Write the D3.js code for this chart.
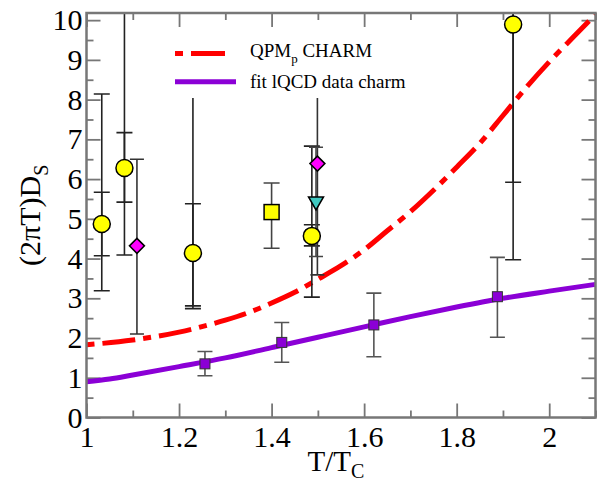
<!DOCTYPE html>
<html><head><meta charset="utf-8">
<script src="https://cdn.jsdelivr.net/npm/d3@7"></script>
<style>html,body{margin:0;padding:0;background:#fff;} svg{display:block;} text{font-family:"Liberation Serif","DejaVu Serif",serif;}</style>
</head><body>
<script>
// ---- data ----
const qpmT = [1.0,1.1,1.2,1.3,1.35,1.4,1.45,1.5,1.55,1.6,1.65,1.7,1.75,1.8,1.85,1.9,1.95,2.0,2.05,2.1];
const qpmD = [1.83,1.95,2.15,2.45,2.64,2.88,3.15,3.48,3.82,4.22,4.7,5.18,5.72,6.3,6.9,7.6,8.3,8.95,9.55,10.14];
const fitT = [1.0,1.05,1.1,1.2,1.3,1.4,1.5,1.6,1.7,1.8,1.9,2.0,2.1];
const fitD = [0.90,0.97,1.07,1.28,1.50,1.76,2.02,2.28,2.54,2.78,3.0,3.18,3.35];

const lqcdT  = [1.256,1.422,1.621,1.888];
const lqcdD  = [1.35,1.89,2.33,3.04];
const lqcdLo = [1.05,1.39,1.53,2.02];
const lqcdHi = [1.66,2.39,3.13,4.03];

const circT   = [1.033,1.082,1.23,1.487,1.922];
const circD   = [4.87,6.28,4.14,4.57,9.89];
const circLo1 = [4.07,5.42,2.81,4.32,5.92];
const circHi1 = [5.67,7.17,5.38,4.85,13.9];
const circLo2 = [3.19,4.09,2.74,3.03,3.97];
const circHi2 = [8.14,11.5,9.0,6.83,15.8];

const diamT  = [1.109,1.499];
const diamD  = [4.32,6.39];
const diamLo = [2.10,3.59];
const diamHi = [6.50,9.19];

const sqT  = [1.40];
const sqD  = [5.17];
const sqLo = [4.26];
const sqHi = [5.90];

const triT  = [1.496];
const triD  = [5.40];
const triLo = [4.05];
const triHi = [6.80];

const xMajor = [1,1.2,1.4,1.6,1.8,2];
const xMinor = [1.1,1.3,1.5,1.7,1.9,2.1];
const yMajor = [0,1,2,3,4,5,6,7,8,9,10];
const yMinor = [0.5,1.5,2.5,3.5,4.5,5.5,6.5,7.5,8.5,9.5];

// ---- layout ----
const W = 597, H = 484;
const L = 86.5, R = 595.5, T = 13, B = 417.5;
const svg = d3.select("body").append("svg").attr("width", W).attr("height", H);
const x = d3.scaleLinear().domain([1, 2.1]).range([L, R]);
const y = d3.scaleLinear().domain([0, 10.18]).range([B, T]);
const serif = "Liberation Serif, DejaVu Serif, serif";
const frameCol = "#777";

svg.append("defs").append("clipPath").attr("id","clip")
  .append("rect").attr("x",L).attr("y",T).attr("width",R-L).attr("height",B-T);

// axes (inward ticks)
function styleAxis(g){
  g.attr("font-family", serif);
  g.select(".domain").remove();
  g.selectAll(".tick line").attr("stroke", frameCol).attr("stroke-width", 1.8);
  g.selectAll(".tick text").attr("font-family", serif).attr("font-size", 30).attr("fill","#000");
}
const fmt = d => d3.format("~g")(d);
svg.append("g").attr("transform",`translate(0,${B})`)
  .call(d3.axisBottom(x).tickValues(xMajor).tickSize(-14).tickPadding(8).tickFormat(fmt)).call(styleAxis);
svg.append("g").attr("transform",`translate(0,${B})`)
  .call(d3.axisBottom(x).tickValues(xMinor).tickSize(-7).tickFormat("")).call(styleAxis);
svg.append("g").attr("transform",`translate(0,${T})`)
  .call(d3.axisTop(x).tickValues(xMajor).tickSize(-14).tickFormat("")).call(styleAxis);
svg.append("g").attr("transform",`translate(0,${T})`)
  .call(d3.axisTop(x).tickValues(xMinor).tickSize(-7).tickFormat("")).call(styleAxis);
svg.append("g").attr("transform",`translate(${L},0)`)
  .call(d3.axisLeft(y).tickValues(yMajor).tickSize(-14).tickPadding(4).tickFormat(fmt)).call(styleAxis);
svg.append("g").attr("transform",`translate(${L},0)`)
  .call(d3.axisLeft(y).tickValues(yMinor).tickSize(-7).tickFormat("")).call(styleAxis);
svg.append("g").attr("transform",`translate(${R},0)`)
  .call(d3.axisRight(y).tickValues(yMajor).tickSize(-14).tickFormat("")).call(styleAxis);
svg.append("g").attr("transform",`translate(${R},0)`)
  .call(d3.axisRight(y).tickValues(yMinor).tickSize(-7).tickFormat("")).call(styleAxis);

const plot = svg.append("g").attr("clip-path","url(#clip)");

// curves
const line = d3.line().x(d=>x(d[0])).y(d=>y(d[1])).curve(d3.curveMonotoneX);
plot.append("path").datum(d3.zip(fitT, fitD)).attr("d", line)
  .attr("fill","none").attr("stroke","#8b00d6").attr("stroke-width",5);
plot.append("path").datum(d3.zip(qpmT, qpmD)).attr("d", line)
  .attr("fill","none").attr("stroke","#ff0000").attr("stroke-width",5)
  .attr("stroke-dasharray","8,8,33,8");

// error bars
function errBar(t, lo, hi, col, hw){
  const g = plot.append("g").attr("stroke", col).attr("stroke-width", 1.6);
  g.append("line").attr("x1",x(t)).attr("x2",x(t)).attr("y1",y(lo)).attr("y2",y(hi));
  g.append("line").attr("x1",x(t)-hw).attr("x2",x(t)+hw).attr("y1",y(lo)).attr("y2",y(lo));
  g.append("line").attr("x1",x(t)-hw).attr("x2",x(t)+hw).attr("y1",y(hi)).attr("y2",y(hi));
}
lqcdT.forEach((t,i)=>errBar(t, lqcdLo[i], lqcdHi[i], "#555", 7.5));
circT.forEach((t,i)=>{ errBar(t, circLo2[i], circHi2[i], "#222", 8); errBar(t, circLo1[i], circHi1[i], "#222", 8); });
diamT.forEach((t,i)=>errBar(t, diamLo[i], diamHi[i], "#333", 7));
sqT.forEach((t,i)=>errBar(t, sqLo[i], sqHi[i], "#444", 8));
triT.forEach((t,i)=>errBar(t, triLo[i], triHi[i], "#444", 7));

// markers
plot.selectAll(".lq").data(d3.zip(lqcdT,lqcdD)).join("rect")
  .attr("x",d=>x(d[0])-5).attr("y",d=>y(d[1])-5).attr("width",10).attr("height",10)
  .attr("fill","#8b00d6").attr("stroke","#333").attr("stroke-width",1);
plot.selectAll(".ci").data(d3.zip(circT,circD)).join("circle")
  .attr("cx",d=>x(d[0])).attr("cy",d=>y(d[1])).attr("r",8.5)
  .attr("fill","#ffff00").attr("stroke","#000").attr("stroke-width",1.5);
plot.selectAll(".sq").data(d3.zip(sqT,sqD)).join("rect")
  .attr("x",d=>x(d[0])-7.5).attr("y",d=>y(d[1])-7.5).attr("width",15).attr("height",15)
  .attr("fill","#ffff00").attr("stroke","#000").attr("stroke-width",1.5);
plot.selectAll(".tr").data(d3.zip(triT,triD)).join("path")
  .attr("d",d=>{const cx=x(d[0]), cy=y(d[1]); return `M${cx-7.5},${cy-6}L${cx+7.5},${cy-6}L${cx},${cy+7}Z`;})
  .attr("fill","#3fc8c0").attr("stroke","#000").attr("stroke-width",1.5);
plot.selectAll(".di").data(d3.zip(diamT,diamD)).join("path")
  .attr("d",d=>{const cx=x(d[0]), cy=y(d[1]); return `M${cx},${cy-7.5}L${cx+7.5},${cy}L${cx},${cy+7.5}L${cx-7.5},${cy}Z`;})
  .attr("fill","#ff00ff").attr("stroke","#000").attr("stroke-width",1.5);

// frame
svg.append("rect").attr("x",L).attr("y",T).attr("width",R-L).attr("height",B-T)
  .attr("fill","none").attr("stroke",frameCol).attr("stroke-width",2.5);

// legend (opaque box)
const lg = svg.append("g");
lg.append("rect").attr("x",162).attr("y",28).attr("width",258).attr("height",70).attr("fill","#fff");
lg.append("line").attr("x1",175).attr("x2",225).attr("y1",53.5).attr("y2",53.5)
  .attr("stroke","#ff0000").attr("stroke-width",5).attr("stroke-dasharray","8,8,34,8");
lg.append("line").attr("x1",175).attr("x2",236).attr("y1",81.7).attr("y2",81.7)
  .attr("stroke","#8b00d6").attr("stroke-width",5);
const t1 = lg.append("text").attr("x",250).attr("y",57).attr("font-family",serif).attr("font-size",19);
t1.append("tspan").text("QPM");
t1.append("tspan").attr("font-size",13).attr("dy",6).text("p");
t1.append("tspan").attr("dy",-6).text(" CHARM");
lg.append("text").attr("x",250).attr("y",88).attr("font-family",serif).attr("font-size",19).text("fit lQCD data charm");

// axis titles
const yt = svg.append("text").attr("transform",`translate(40,${(T+B)/2}) rotate(-90)`)
  .attr("text-anchor","middle").attr("font-family",serif).attr("font-size",30);
yt.append("tspan").text("(2πT)D");
yt.append("tspan").attr("font-size",20).attr("dy",8).text("S");
const xt = svg.append("text").attr("x",336).attr("y",471)
  .attr("text-anchor","middle").attr("font-family",serif).attr("font-size",29);
xt.append("tspan").text("T/T");
xt.append("tspan").attr("font-size",20).attr("dy",7).text("C");
</script>
</body></html>
